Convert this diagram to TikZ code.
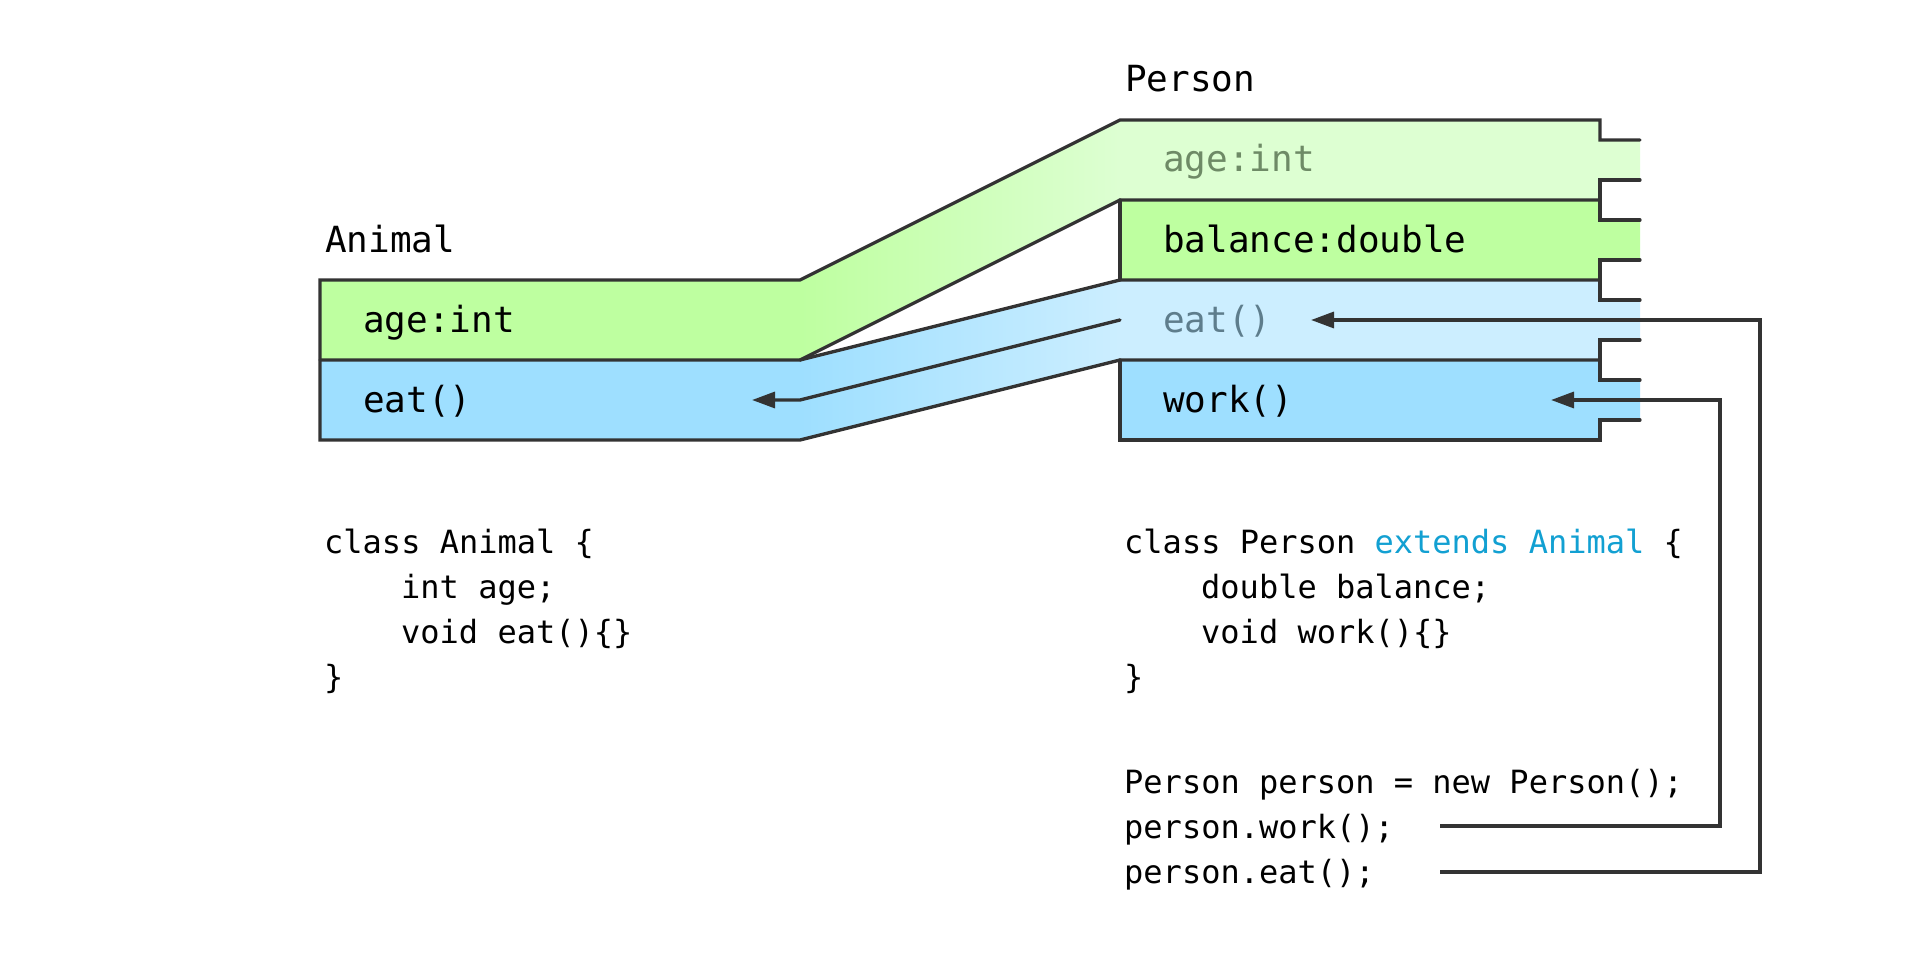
\documentclass[tikz,border=0pt]{standalone}
\usepackage{fontspec}
\setmonofont{DejaVu Sans Mono}
\usetikzlibrary{arrows.meta}
\definecolor{lineC}{HTML}{333333}
\definecolor{grn}{HTML}{BEFFA0}
\definecolor{lgrn}{HTML}{DDFFD2}
\definecolor{blu}{HTML}{9EDFFF}
\definecolor{lblu}{HTML}{CCEEFF}
\definecolor{fadeG}{HTML}{6E8A66}
\definecolor{fadeB}{HTML}{5E7D8C}
\definecolor{kw}{HTML}{12A0D2}
\begin{document}
\begin{tikzpicture}[x=1pt,y=-1pt,
  outl/.style={draw=lineC, line width=3.3pt, line cap=round, line join=miter},
  conn/.style={draw=lineC, line width=3.3pt, line join=miter, -{Triangle[length=23pt,width=16pt]}},
  rowtxt/.style={anchor=base west, inner sep=0pt, text=black, font=\ttfamily\fontsize{36}{43}\selectfont},
  codetxt/.style={anchor=base west, inner sep=0pt, text=black, font=\ttfamily\fontsize{32}{45}\selectfont},
]
\fill[white] (0,0) rectangle (1920,960);
\useasboundingbox (0,0) rectangle (1920,960);

% ---- fills ----
\fill[grn] (320,280) rectangle (800,360);
\fill[blu] (320,360) rectangle (800,440);
\shade[left color=grn, right color=lgrn] (800,280)--(1120,120)--(1120,200)--(800,360)--cycle;
\shade[left color=blu, right color=lblu] (800,360)--(1120,280)--(1120,360)--(800,440)--cycle;
\fill[lgrn] (1120,120)--(1600,120)--(1600,140)--(1640,140)--(1640,180)--(1600,180)--(1600,200)--(1120,200)--cycle;
\fill[grn] (1120,200)--(1600,200)--(1600,220)--(1640,220)--(1640,260)--(1600,260)--(1600,280)--(1120,280)--cycle;
\fill[lblu] (1120,280)--(1600,280)--(1600,300)--(1640,300)--(1640,340)--(1600,340)--(1600,360)--(1120,360)--cycle;
\fill[blu] (1120,360)--(1600,360)--(1600,380)--(1640,380)--(1640,420)--(1600,420)--(1600,440)--(1120,440)--cycle;

% ---- outlines ----
\draw[outl] (1640,140)--(1600,140)--(1600,120)--(1120,120)--(800,280)--(320,280)--(320,440)--(800,440)--(1120,360)--(1600,360);
\draw[outl] (320,360)--(800,360)--(1120,200)--(1600,200);
\draw[outl] (800,360)--(1120,280)--(1600,280);
\draw[outl] (1120,200)--(1120,280);
\draw[outl] (1640,180)--(1600,180)--(1600,220)--(1640,220);
\draw[outl] (1640,260)--(1600,260)--(1600,300)--(1640,300);
\draw[outl] (1640,340)--(1600,340)--(1600,380)--(1640,380);
\draw[outl] (1640,420)--(1600,420)--(1600,440)--(1120,440)--(1120,360);

% ---- titles and row labels ----
\node[rowtxt] (tAnimal) at (325,252) {Animal};
\node[rowtxt] (tPerson) at (1125,92) {Person};
\node[rowtxt] (aAge) at (363,332) {age:int};
\node[rowtxt] (aEat) at (363,412) {eat()};
\node[rowtxt, text=fadeG] (pAge) at (1163,172) {age:int};
\node[rowtxt] (pBal) at (1163,252) {balance:double};
\node[rowtxt, text=fadeB] (pEat) at (1163,332) {eat()};
\node[rowtxt] (pWork) at (1163,412) {work()};

% ---- code ----
\node[codetxt] (ca1) at (324,553) {class Animal \{};
\node[codetxt] (ca2) at (401,598) {int age;};
\node[codetxt] (ca3) at (401,643) {void eat()\{\}};
\node[codetxt] (ca4) at (324,688) {\}};
\node[codetxt] (cp1) at (1124,553) {class Person \textcolor{kw}{extends Animal} \{};
\node[codetxt] (cp2) at (1201,598) {double balance;};
\node[codetxt] (cp3) at (1201,643) {void work()\{\}};
\node[codetxt] (cp4) at (1124,688) {\}};
\node[codetxt] (cp5) at (1124,793) {Person person = new Person();};
\node[codetxt] (cp6) at (1124,838) {person.work();};
\node[codetxt] (cp7) at (1124,883) {person.eat();};

% ---- connectors ----
\coordinate (inhS) at (1120,320);
\coordinate (inhB) at (800,400);
\coordinate (inhT) at (752,400);
\draw[conn, line cap=round] (inhS)--(inhB)--(inhT);

\coordinate (workS) at (1440,826);
\coordinate (workT) at (1551,400);
\draw[conn] (workS) -| (1720,400) -- (workT);

\coordinate (eatS) at (1440,872);
\coordinate (eatT) at (1311,320);
\draw[conn] (eatS) -| (1760,320) -- (eatT);
\end{tikzpicture}
\end{document}
